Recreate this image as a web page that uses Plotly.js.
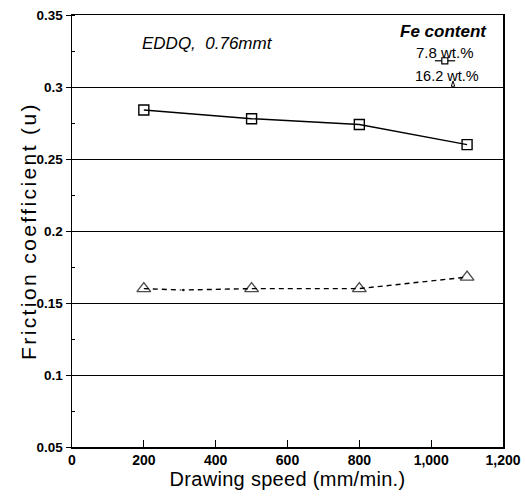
<!DOCTYPE html>
<html>
<head>
<meta charset="utf-8">
<script src="https://cdn.plot.ly/plotly-3.0.1.min.js"></script>
<style>html,body{margin:0;padding:0;background:#fff;}#chart{width:525px;height:496px;}</style>
</head>
<body>
<div id="chart"></div>
<script>
const speedA = [200, 500, 800, 1100];
const frictionA = [0.284, 0.278, 0.274, 0.260];
const speedB = [200, 310, 500, 800, 1100];
const frictionB = [0.160, 0.159, 0.160, 0.160, 0.168];
const nameA = "7.8 wt.%";
const nameB = "16.2 wt.%";
const yTicks = [0.05, 0.1, 0.15, 0.2, 0.25, 0.3, 0.35];
const yTickText = ["0.05", "0.1", "0.15", "0.2", "0.25", "0.3", "0.35"];
const xTicks = [0, 200, 400, 600, 800, 1000, 1200];
const xTickText = ["0", "200", "400", "600", "800", "1,000", "1,200"];

const font = "Liberation Sans, Arial, Helvetica, sans-serif";

const traces = [
  {
    x: speedA, y: frictionA, name: nameA, mode: "lines+markers",
    line: {color: "#000", width: 1.4, dash: "solid"},
    marker: {symbol: "square-open", size: 10, color: "#000", line: {width: 1.4}},
    showlegend: false
  },
  {
    x: speedB, y: frictionB, name: nameB, mode: "lines+markers",
    line: {color: "#000", width: 1.4, dash: "5px,4px"},
    marker: {symbol: ["triangle-up-open", "circle", "triangle-up-open", "triangle-up-open", "triangle-up-open"],
             size: [12, 4, 12, 12, 12], color: "#000", line: {width: 1.4}},
    showlegend: false
  }
];

const layout = {
  width: 525, height: 496,
  margin: {l: 72, r: 22, t: 15, b: 49},
  paper_bgcolor: "#fff", plot_bgcolor: "#fff",
  font: {family: font, color: "#000", size: 12},
  xaxis: {
    range: [0, 1200], tickvals: xTicks, ticktext: xTickText,
    ticks: "inside", ticklen: 7, tickwidth: 1, tickcolor: "#000",
    showgrid: false, zeroline: false,
    showline: true, linecolor: "#000", linewidth: 1.5, mirror: true,
    tickfont: {family: font, size: 14, color: "#000", weight: "bold"},
    title: {text: "Drawing speed (mm/min.)", font: {family: font, size: 20, color: "#000"}, standoff: 4}
  },
  yaxis: {
    range: [0.05, 0.35], tickvals: yTicks, ticktext: yTickText,
    ticks: "outside", ticklen: 5, tickwidth: 1, tickcolor: "#000",
    showgrid: true, gridcolor: "#000", gridwidth: 1,
    zeroline: false,
    showline: true, linecolor: "#000", linewidth: 1.5, mirror: true,
    minor: {dtick: 0.025, tick0: 0.05, ticks: "inside", ticklen: 3, tickcolor: "#000", showgrid: false},
    tickfont: {family: font, size: 13.5, color: "#000", weight: "bold"},
    title: {text: "Friction coefficient (u)", font: {family: font, size: 21, color: "#000"}, standoff: 2}
  },
  annotations: [
    {xref: "paper", yref: "paper", x: 0.158, y: 0.935, xanchor: "left", yanchor: "middle",
     text: "<i>EDDQ,  0.76mmt</i>", showarrow: false, font: {family: font, size: 17, color: "#000"}},
    {xref: "paper", yref: "paper", x: 0.861, y: 0.961, xanchor: "center", yanchor: "middle",
     text: "<i><b>Fe content</b></i>", showarrow: false, font: {family: font, size: 17, color: "#000"}},
    {xref: "paper", yref: "paper", x: 0.865, y: 0.914, xanchor: "center", yanchor: "middle",
     text: nameA, showarrow: false, font: {family: font, size: 15, color: "#000"}},
    {xref: "paper", yref: "paper", x: 0.869, y: 0.859, xanchor: "center", yanchor: "middle",
     text: nameB, showarrow: false, font: {family: font, size: 14.5, color: "#000"}}
  ],
  shapes: [
    {type: "line", xref: "paper", yref: "paper", x0: 0.842, x1: 0.889, y0: 0.894, y1: 0.894,
     line: {color: "#000", width: 1.2}},
    {type: "rect", xref: "paper", yref: "paper", x0: 0.858, x1: 0.872, y0: 0.887, y1: 0.901,
     line: {color: "#000", width: 1.2}, fillcolor: "#fff"},
    {type: "path", xref: "paper", yref: "paper",
     path: "M 0.880 0.835 L 0.888 0.835 L 0.884 0.847 Z",
     line: {color: "#000", width: 1}, fillcolor: "rgba(0,0,0,0)"}
  ]
};

Plotly.newPlot("chart", traces, layout, {displayModeBar: false, staticPlot: true}).then(function () {
  const yt = document.querySelector(".ytitle");
  if (yt) {
    yt.style.letterSpacing = "2.4px";
    const r = yt.getBoundingClientRect();
    const dx = 28 - (r.left + r.width / 2);
    const x = parseFloat(yt.getAttribute("x")) + dx;
    const y = parseFloat(yt.getAttribute("y"));
    yt.setAttribute("x", x);
    yt.setAttribute("transform", "rotate(-90," + x + "," + y + ")");
  }
  const xt = document.querySelector(".xtitle");
  if (xt) xt.style.letterSpacing = "0.3px";
});
</script>
</body>
</html>
